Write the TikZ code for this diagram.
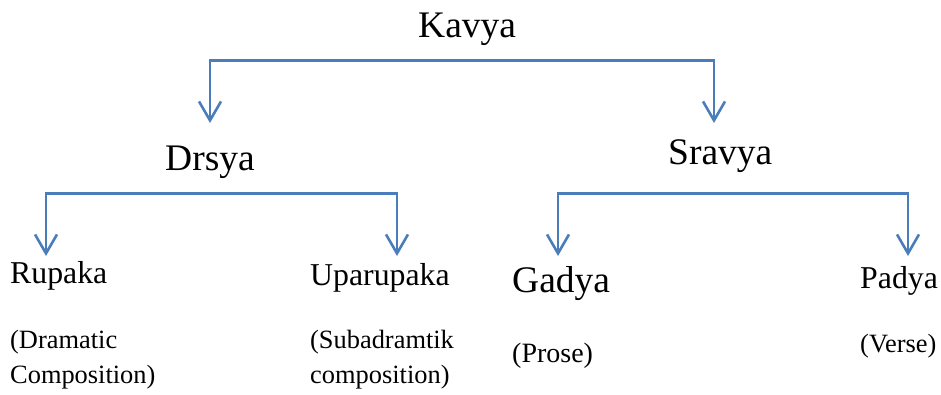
\documentclass[tikz,border=0pt]{standalone}
\usepackage{fontspec}
\setmainfont{Liberation Serif}
\usetikzlibrary{arrows.meta}
\definecolor{linkblue}{RGB}{74,126,187}

\begin{document}
\begin{tikzpicture}[x=1pt, y=-1pt,
    big/.style={anchor=base west, inner sep=0pt, font=\fontsize{37.5}{45}\selectfont},
    mid/.style={anchor=base west, inner sep=0pt, font=\fontsize{31.8}{38}\selectfont},
    note/.style={anchor=base west, inner sep=0pt, align=left, font=\fontsize{26.4}{35}\selectfont},
    link/.style={draw=linkblue, line width=2.6pt, >={Straight Barb[length=19pt,width=22pt]}, <->}]
                        \useasboundingbox (0,0) rectangle (941,394);

                        \foreach \k/\i/\j/\t in {kavya/418/37/Kavya, drsya/165/170/Drsya, sravya/668/164/Sravya, gadya/512/292/Gadya} {
                            \node (\k) at (\i, \j) [big] {\t};
                        }

                        \foreach \k/\i/\j/\t in {rupaka/10/283/Rupaka, uparupaka/310/285/Uparupaka, padya/860/288/Padya} {
                            \node (\k) at (\i, \j) [mid] {\t};
                        }

                        \foreach \k/\i/\j/\t in {dramatic/10/383/{(Dramatic\\Composition)}, subadramtik/310/383/{(Subadramtik\\composition)}, verse/860/352/(Verse)} {
                            \node (\k) at (\i, \j) [note] {\t};
                        }
                        \node (prose) at (512, 362) [note, font=\fontsize{28}{35}\selectfont] {(Prose)};

                        \foreach \k/\i/\j in {k1/210/123, k2/714/123, d1/46/256, d2/397/256, s1/558/256, s2/908/256} {
                            \coordinate (\k) at (\i, \j);
                        }

                        \draw[link] (k1) |- ([yshift=-15pt]kavya.south) -| (k2);
                        \draw[link] (d1) |- ([yshift=-15pt]drsya.south) -| (d2);
                        \draw[link] (s1) |- ([yshift=-21pt]sravya.south) -| (s2);
                    \end{tikzpicture}
\end{document}
